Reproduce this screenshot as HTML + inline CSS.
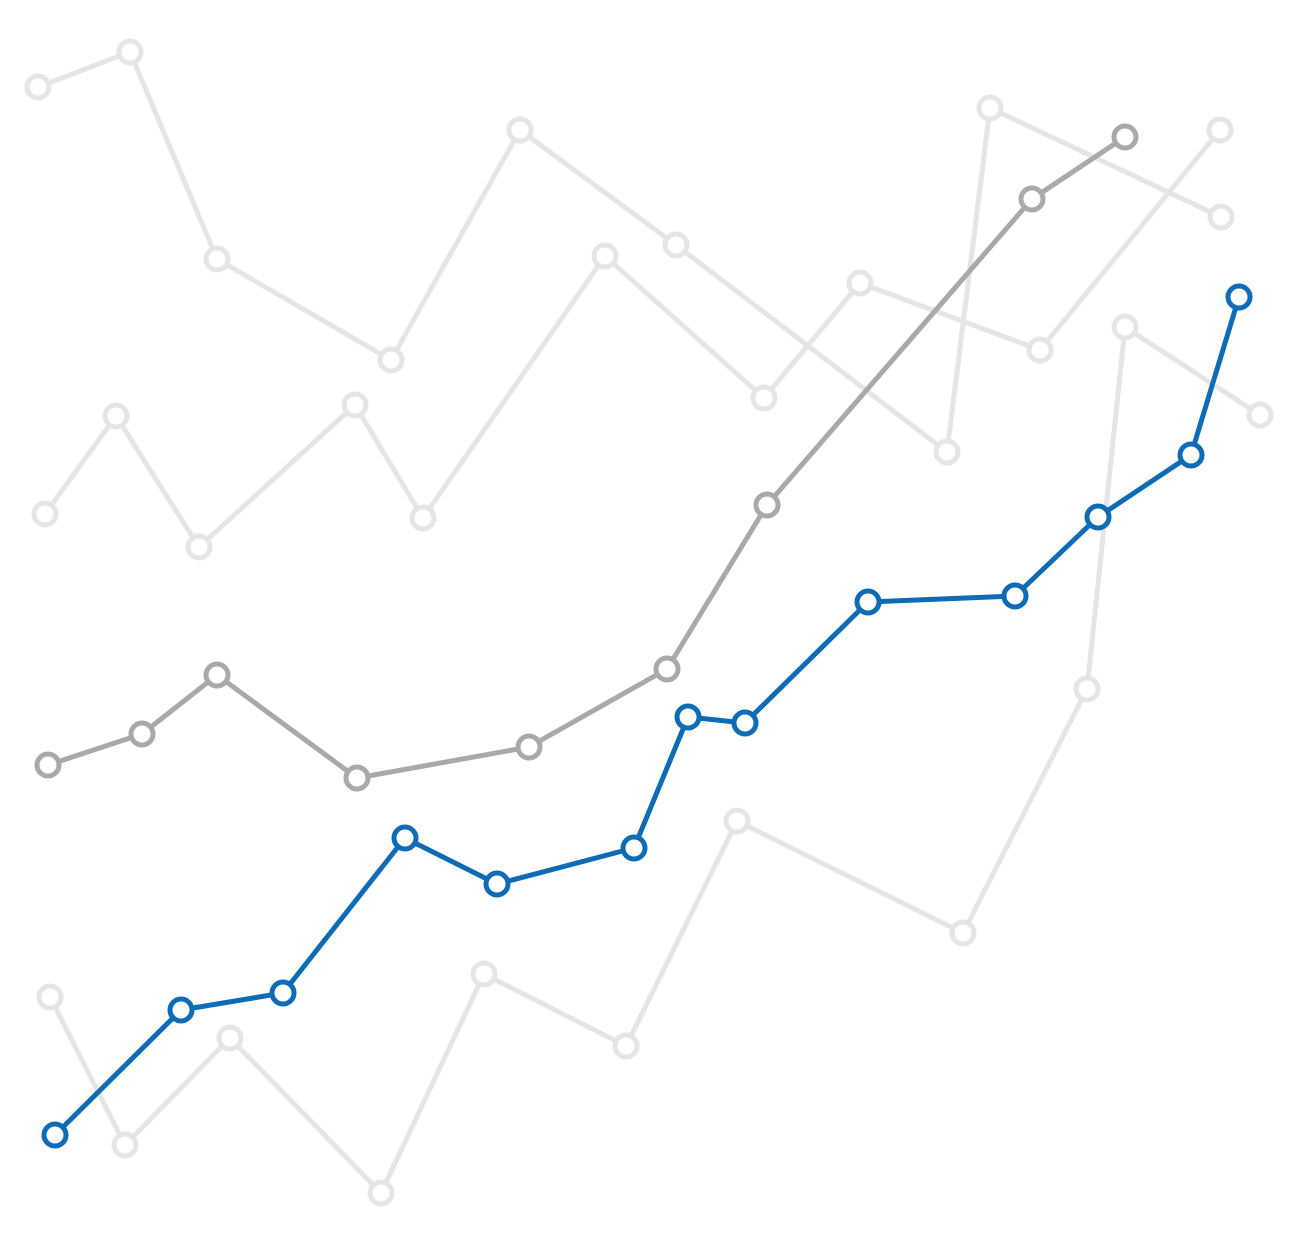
<!DOCTYPE html>
<html><head><meta charset="utf-8"><style>
html,body{margin:0;padding:0;background:#fff;width:1300px;height:1246px;overflow:hidden}
svg{display:block}
</style></head><body>
<svg id="chart" width="1300" height="1246" viewBox="0 0 1300 1246" xmlns="http://www.w3.org/2000/svg"></svg>
<script>
// Data values (x units, y units measured upward from bottom)
const blueX = [55,181,283,405,497,634,688,745,868,1015,1098,1191,1239];
const blueY = [111,236,253,408,362,398,529,523,644,650,729,791,949];
const darkX = [48,142,217,357,529,667,767,1032,1125];
const darkY = [481,512,571,468,499,577,741,1047,1109];
const light1X = [38,130,217,391,520,676,947,990,1221];
const light1Y = [1159,1194,987,886,1116,1001,794,1138,1029];
const light2X = [45,116,199,355,423,605,764,860,1040,1220];
const light2Y = [732,830,699,841,728,990,848,963,896,1116];
const light3X = [50,125,230,381,484,626,737,963,1087,1125,1260];
const light3Y = [249,101,208,53,272,200,425,313,557,919,831];

const W = 1300, H = 1246;
function xScale(v){ return v / 1300 * W; }
function yScale(v){ return H - v / 1246 * H; }

const svg = document.getElementById('chart');
const NS = 'http://www.w3.org/2000/svg';

function drawSeries(xs, ys, color, name, r){
  const g = document.createElementNS(NS,'g');
  
  
  const pts = xs.map((x,i)=> xScale(x)+','+yScale(ys[i])).join(' ');
  const line = document.createElementNS(NS,'polyline');
  line.setAttribute('points', pts);
  line.setAttribute('fill','none');
  line.setAttribute('stroke', color);
  line.setAttribute('stroke-width','5');
  line.setAttribute('stroke-linejoin','round');
  
  
  g.appendChild(line);
  xs.forEach((x,i)=>{
    const c = document.createElementNS(NS,'circle');
    c.setAttribute('cx', xScale(x));
    c.setAttribute('cy', yScale(ys[i]));
    c.setAttribute('r', r);
    c.setAttribute('fill','#fff');
    c.setAttribute('stroke', color);
    c.setAttribute('stroke-width','5');
    
    
    g.appendChild(c);
  });
  svg.appendChild(g);
}
drawSeries(light1X, light1Y, '#e5e5e5', 'background-series-1', 11);
drawSeries(light2X, light2Y, '#e5e5e5', 'background-series-2', 11);
drawSeries(light3X, light3Y, '#e5e5e5', 'background-series-3', 11);
drawSeries(darkX, darkY, '#a9a9a9', 'gray-series', 11);
drawSeries(blueX, blueY, '#0e6bb6', 'blue-series', 11);
</script>
</body></html>
